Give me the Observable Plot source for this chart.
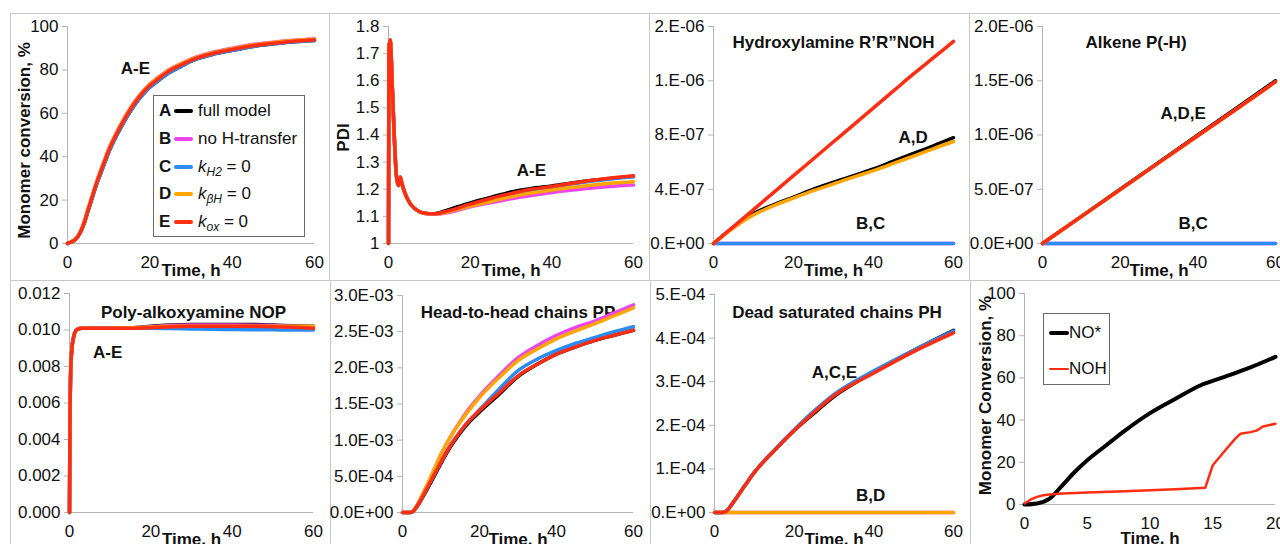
<!DOCTYPE html>
<html><head><meta charset="utf-8">
<script src="https://cdn.jsdelivr.net/npm/d3@7"></script>
<script src="https://cdn.jsdelivr.net/npm/@observablehq/plot@0.6"></script>
<style>
html,body{margin:0;padding:0;background:#fff;}
body{width:1280px;height:544px;overflow:hidden;position:relative;font-family:"Liberation Sans",Arial,Helvetica,sans-serif;color:#111;}
.box{position:absolute;border:1px solid #c8c8c8;box-sizing:border-box;}
.panel{position:absolute;}
.panel svg{overflow:visible;display:block;}
.legend{position:absolute;background:#fff;border:1px solid #6a6a6a;box-sizing:border-box;font-size:17px;}
.lrow{position:absolute;height:20px;line-height:20px;white-space:nowrap;}
.lkey{position:absolute;font-weight:bold;}
.lline{position:absolute;top:8px;height:4px;border-radius:2px;}
.ltxt{position:absolute;}
.ltxt sub{font-size:12px;font-style:italic;vertical-align:-4px;line-height:0;}
</style></head><body>
<script>
// ---------------- DATA ----------------
const keys = ["A", "B", "C", "D", "E"];
const keyColors = ["#000000", "#ee44ee", "#2a8cf4", "#ffa500", "#ff2d12"];
const legendNames = ["full model", "no H-transfer", "<i>k</i><sub>H2</sub> = 0", "<i>k</i><sub>βH</sub> = 0", "<i>k</i><sub>ox</sub> = 0"];
const timeLabel = "Time, h";

// Panel 1: monomer conversion (%)
const convTime = [0,1,2,3,4,5,6,7,8,9,10,12,14,16,18,20,22,25,28,30,35,40,45,50,55,60];
const convA = [0,0.8,2,4.6,9,15,21,27,32,37,42,50,57,63,68,72,75,79,82,84,87,89,90.8,92,93,93.6];
const convB = [0,0.9,2.2,5,9.8,16,22,28,33.5,38.5,43.5,51.5,58.5,64.5,69.5,73.5,76.5,80.5,83.3,85,88,90,91.7,92.8,93.7,94.3];
const convC = [0,0.8,2,4.6,9,15,21,27,32,37,42,50,57,63,68,72,75,79,82,84,87,89,90.8,92,93,93.6];
const convD = [0,0.9,2.2,5,9.7,15.9,21.9,27.9,33.3,38.3,43.3,51.3,58.3,64.3,69.3,73.3,76.3,80.3,83.1,84.8,87.8,89.8,91.5,92.6,93.5,94.1];
const convE = [0,0.8,2,4.7,9.3,15.5,21.5,27.5,32.8,37.8,42.8,50.8,57.8,63.8,68.8,72.8,75.8,79.8,82.6,84.4,87.4,89.4,91.1,92.3,93.2,93.8];
const convTicks = [0,20,40,60,80,100];

// Panel 2: PDI
const pdiTime = [0,0.1,0.4,1,1.4,1.9,2.4,2.9,3.3,3.8,5.3,6.5,7.8,9,10.6,12,15,20,25,30,35,40,45,50,55,60];
const pdiA = [1.0,1.72,1.75,1.55,1.40,1.256,1.214,1.244,1.22,1.195,1.147,1.128,1.116,1.112,1.110,1.112,1.126,1.150,1.170,1.190,1.203,1.212,1.223,1.233,1.241,1.248];
const pdiB = [1.0,1.72,1.75,1.55,1.40,1.256,1.214,1.244,1.22,1.195,1.147,1.128,1.116,1.110,1.108,1.108,1.115,1.135,1.150,1.165,1.177,1.188,1.197,1.205,1.211,1.216];
const pdiC = [1.0,1.72,1.75,1.55,1.40,1.256,1.214,1.244,1.22,1.195,1.147,1.128,1.116,1.112,1.110,1.111,1.120,1.143,1.163,1.182,1.197,1.207,1.219,1.230,1.239,1.246];
const pdiD = [1.0,1.72,1.75,1.55,1.40,1.256,1.214,1.244,1.22,1.195,1.147,1.128,1.116,1.111,1.110,1.110,1.118,1.138,1.155,1.172,1.186,1.197,1.207,1.216,1.223,1.228];
const pdiE = [1.0,1.72,1.75,1.55,1.40,1.256,1.214,1.244,1.22,1.195,1.147,1.128,1.116,1.112,1.110,1.111,1.122,1.145,1.166,1.184,1.200,1.210,1.222,1.233,1.242,1.250];
const pdiTicks = [1,1.1,1.2,1.3,1.4,1.5,1.6,1.7,1.8];
const pdiTickLabels = ["1","1.1","1.2","1.3","1.4","1.5","1.6","1.7","1.8"];

// Panel 3: hydroxylamine R'R"NOH
const nohTime = [0,5,10,15,20,25,30,35,40,45,50,55,60];
const nohA = [0,0.12e-6,0.22e-6,0.285e-6,0.342e-6,0.40e-6,0.452e-6,0.50e-6,0.55e-6,0.607e-6,0.664e-6,0.72e-6,0.78e-6];
const nohB = [0,0,0,0,0,0,0,0,0,0,0,0,0];
const nohC = [0,0,0,0,0,0,0,0,0,0,0,0,0];
const nohD = [0,0.115e-6,0.21e-6,0.278e-6,0.335e-6,0.39e-6,0.44e-6,0.49e-6,0.537e-6,0.59e-6,0.645e-6,0.70e-6,0.752e-6];
const nohE = [0,0.125e-6,0.25e-6,0.375e-6,0.50e-6,0.625e-6,0.75e-6,0.875e-6,1.0e-6,1.125e-6,1.25e-6,1.37e-6,1.49e-6];
const nohTicks = [0,4e-7,8e-7,1.2e-6,1.6e-6];
const nohTickLabels = ["0.E+00","4.E-07","8.E-07","1.E-06","2.E-06"];

// Panel 4: alkene P(-H)
const alkTime = [0,10,20,30,40,50,60];
const alkA = [0,0.25e-6,0.50e-6,0.75e-6,1.0e-6,1.25e-6,1.50e-6];
const alkB = [0,0,0,0,0,0,0];
const alkC = [0,0,0,0,0,0,0];
const alkD = [0,0.248e-6,0.497e-6,0.745e-6,0.993e-6,1.24e-6,1.49e-6];
const alkE = [0,0.248e-6,0.497e-6,0.745e-6,0.993e-6,1.24e-6,1.49e-6];
const alkTicks = [0,5e-7,1e-6,1.5e-6,2e-6];
const alkTickLabels = ["0.0E+00","5.0E-07","1.0E-06","1.5E-06","2.0E-06"];

// Panel 5: poly-alkoxyamine NOP
const nopTime = [0,0.1,0.3,0.6,1,1.4,2,3,5,10,15,20,25,30,35,40,45,50,55,60];
const nopA = [0,0.0045,0.0078,0.0090,0.0096,0.0099,0.01005,0.0101,0.0101,0.0101,0.01012,0.0102,0.01028,0.0103,0.0103,0.0103,0.0103,0.01027,0.01023,0.0102];
const nopB = [0,0.0045,0.0078,0.0090,0.0096,0.0099,0.01005,0.0101,0.0101,0.0101,0.01011,0.01018,0.01025,0.01027,0.01027,0.01027,0.01026,0.01024,0.0102,0.01018];
const nopC = [0,0.0045,0.0078,0.0090,0.0096,0.0099,0.01005,0.0101,0.0101,0.0101,0.0101,0.0101,0.01008,0.01006,0.01004,0.01003,0.01002,0.01001,0.01,0.01];
const nopD = [0,0.0045,0.0078,0.0090,0.0096,0.0099,0.01005,0.0101,0.0101,0.0101,0.01012,0.01016,0.0102,0.0102,0.0102,0.0102,0.0102,0.0102,0.0102,0.0102];
const nopE = [0,0.0045,0.0078,0.0090,0.0096,0.0099,0.01005,0.0101,0.0101,0.0101,0.0101,0.01013,0.01018,0.0102,0.0102,0.0102,0.0102,0.01018,0.01015,0.0101];
const nopTicks = [0,0.002,0.004,0.006,0.008,0.010,0.012];
const nopTickLabels = ["0.000","0.002","0.004","0.006","0.008","0.010","0.012"];

// Panel 6: head-to-head chains PP
const ppTime = [0,2,2.8,4,5,7.5,10,12.5,15,17.5,20,25,30,35,40,45,50,55,60];
const ppA = [0,0,0.02e-3,0.10e-3,0.19e-3,0.43e-3,0.68e-3,0.91e-3,1.10e-3,1.26e-3,1.39e-3,1.63e-3,1.88e-3,2.05e-3,2.19e-3,2.29e-3,2.38e-3,2.45e-3,2.52e-3];
const ppB = [0,0,0.02e-3,0.12e-3,0.22e-3,0.50e-3,0.80e-3,1.05e-3,1.26e-3,1.45e-3,1.61e-3,1.89e-3,2.14e-3,2.31e-3,2.45e-3,2.56e-3,2.65e-3,2.76e-3,2.87e-3];
const ppC = [0,0,0.02e-3,0.11e-3,0.20e-3,0.45e-3,0.70e-3,0.93e-3,1.12e-3,1.28e-3,1.42e-3,1.70e-3,1.96e-3,2.12e-3,2.24e-3,2.34e-3,2.42e-3,2.50e-3,2.57e-3];
const ppD = [0,0,0.02e-3,0.12e-3,0.23e-3,0.51e-3,0.81e-3,1.05e-3,1.25e-3,1.43e-3,1.59e-3,1.86e-3,2.10e-3,2.26e-3,2.40e-3,2.51e-3,2.61e-3,2.72e-3,2.83e-3];
const ppE = [0,0,0.02e-3,0.11e-3,0.20e-3,0.45e-3,0.70e-3,0.93e-3,1.12e-3,1.28e-3,1.41e-3,1.65e-3,1.89e-3,2.05e-3,2.19e-3,2.29e-3,2.38e-3,2.45e-3,2.52e-3];
const ppTicks = [0,5e-4,1e-3,1.5e-3,2e-3,2.5e-3,3e-3];
const ppTickLabels = ["0.0E+00","5.0E-04","1.0E-03","1.5E-03","2.0E-03","2.5E-03","3.0E-03"];

// Panel 7: dead saturated chains PH
const phTime = [0,2,2.8,4,5,7.5,10,15,20,25,30,40,50,60];
const phA = [0,0,0.02e-4,0.14e-4,0.27e-4,0.60e-4,0.92e-4,1.42e-4,1.88e-4,2.28e-4,2.66e-4,3.22e-4,3.72e-4,4.18e-4];
const phB = [0,0,0,0,0,0,0,0,0,0,0,0,0,0];
const phC = [0,0,0.02e-4,0.14e-4,0.27e-4,0.60e-4,0.92e-4,1.43e-4,1.90e-4,2.33e-4,2.71e-4,3.25e-4,3.72e-4,4.16e-4];
const phD = [0,0,0,0,0,0,0,0,0,0,0,0,0,0];
const phE = [0,0,0.02e-4,0.14e-4,0.27e-4,0.60e-4,0.92e-4,1.42e-4,1.88e-4,2.30e-4,2.68e-4,3.20e-4,3.69e-4,4.12e-4];
const phTicks = [0,1e-4,2e-4,3e-4,4e-4,5e-4];
const phTickLabels = ["0.E+00","1.E-04","2.E-04","3.E-04","4.E-04","5.E-04"];

// Panel 8: NO* vs NOH conversion
const expKeys = ["NO*", "NOH"];
const expColors = ["#000000", "#ff2d12"];
const noStarTime = [0,1,2,3,4,5,6,7,8,10,12,14,16,18,20];
const noStarConv = [0,0.5,2.8,9,15.4,21,25.7,30.4,35,43.3,50,56.4,60.6,65,70];
const nohExpTime = [0,0.5,1,1.5,2,3,5,8,10,12,14.4,15,16,16.8,17.2,18,18.5,19,20];
const nohExpConv = [0.5,2.4,3.6,4.4,4.7,5.2,5.7,6.3,6.8,7.2,7.9,18.6,25.7,31.2,33.5,34.3,35,37,38.3];
const expTimeTicks = [0,5,10,15,20];

// Annotations (data coordinates)
const p1Notes = [{t: 16.5, v: 80.6, label: "A-E"}];
const p2Notes = [{t: 35, v: 1.269, label: "A-E"}];
const p3Notes = [{t: 49.9, v: 0.78e-6, label: "A,D"}, {t: 39.3, v: 0.147e-6, label: "B,C"}];
const p4Notes = [{t: 36.2, v: 1.2e-6, label: "A,D,E"}, {t: 38.8, v: 0.183e-6, label: "B,C"}];
const p5Notes = [{t: 9.4, v: 0.00879, label: "A-E"}];
const p7Notes = [{t: 30.1, v: 3.215e-4, label: "A,C,E"}, {t: 39.2, v: 0.38e-4, label: "B,D"}];

// ---------------- HELPERS ----------------
const FONT = "'Liberation Sans', Arial, Helvetica, sans-serif";
const AXIS_GRAY = "#b4b4b4";

function rows(times, arrays) {
  return keys.map((k, j) => times.map((t, i) => ({t, v: arrays[j][i], s: k})));
}

function addBox(l, t, w, h) {
  const d = document.createElement("div");
  d.className = "box";
  Object.assign(d.style, {left: l + "px", top: t + "px", width: w + "px", height: h + "px"});
  document.body.appendChild(d);
}

function panel(cfg) {
  const [sl, st, sw, sh] = cfg.svg;
  const [L, R, T, B] = cfg.plot;
  const yLabelMap = new Map(cfg.yTicks.map((d, i) => [d, cfg.yTickLabels ? cfg.yTickLabels[i] : String(d)]));
  const marks = [
    Plot.ruleX([cfg.xDomain[0]], {stroke: AXIS_GRAY, strokeWidth: 1}),
    Plot.ruleY([cfg.yDomain[0]], {stroke: AXIS_GRAY, strokeWidth: 1}),
    Plot.axisY(cfg.yTicks, {tickSize: 5, tickPadding: 4, stroke: AXIS_GRAY, fill: "#111", label: null, tickFormat: d => yLabelMap.get(d), fontSize: 17}),
    Plot.axisX(cfg.xTicks, {tickSize: 0, tickPadding: 12, fill: "#111", label: null, tickFormat: d => String(d), fontSize: 17}),
    Plot.text([timeLabel], {frameAnchor: "bottom", lineAnchor: "middle", textAnchor: "middle", dy: cfg.xLabelDy, fontWeight: "bold", fontSize: 17, fill: "#111"})
  ];
  if (cfg.yLabel) marks.push(Plot.text([cfg.yLabel], {frameAnchor: "left", textAnchor: "middle", lineAnchor: "middle", rotate: -90, dx: cfg.yLabelDx, dy: cfg.yLabelDy, fontWeight: "bold", fontSize: 17, fill: "#111"}));
  if (cfg.title) marks.push(Plot.text([cfg.title], {frameAnchor: "top", textAnchor: "middle", lineAnchor: "middle", dx: cfg.titleDx || 0, dy: cfg.titleDy, fontWeight: "bold", fontSize: 17, fill: "#111"}));
  marks.push(...cfg.lines);
  if (cfg.notes) marks.push(Plot.text(cfg.notes, {x: "t", y: "v", text: "label", fontWeight: "bold", fontSize: 17, fill: "#111"}));
  const svg = Plot.plot({
    width: sw, height: sh,
    marginLeft: L - sl, marginRight: sl + sw - R, marginTop: T - st, marginBottom: st + sh - B,
    style: {fontFamily: FONT, fontSize: "17px", background: "transparent", color: "#111", overflow: "visible"},
    x: {domain: cfg.xDomain},
    y: {domain: cfg.yDomain},
    color: cfg.color,
    marks
  });
  const wrap = document.createElement("div");
  wrap.className = "panel";
  Object.assign(wrap.style, {left: sl + "px", top: st + "px", width: sw + "px", height: sh + "px"});
  wrap.appendChild(svg);
  document.body.appendChild(wrap);
}

function modelLines(times, arrays, curve = "monotone-x") {
  return rows(times, arrays).map(r => Plot.line(r, {x: "t", y: "v", stroke: "s", strokeWidth: 3.5, curve, strokeLinejoin: "round"}));
}
const modelColor = {domain: keys, range: keyColors};

// ---------------- FRAMES ----------------
addBox(10, 13, 320, 268);
addBox(329, 13, 321, 268);
addBox(649, 13, 321, 268);
addBox(969, 13, 330, 268);
addBox(10, 280, 321, 280);
addBox(330, 280, 321, 280);
addBox(650, 280, 321, 280);
addBox(970, 280, 330, 280);

// ---------------- PANELS ----------------
panel({svg: [10, 13, 319, 267], plot: [67, 314, 26, 243], xDomain: [0, 60], yDomain: [0, 100],
  xTicks: [0, 20, 40, 60], yTicks: convTicks, yLabel: "Monomer conversion, %", yLabelDx: -42.5, yLabelDy: 5.5, xLabelDy: 27,
  color: modelColor, lines: modelLines(convTime, [convA, convB, convC, convD, convE]), notes: p1Notes});

panel({svg: [329, 13, 320, 267], plot: [388, 633, 26, 243], xDomain: [0, 60], yDomain: [1, 1.8],
  xTicks: [0, 20, 40, 60], yTicks: pdiTicks, yTickLabels: pdiTickLabels, yLabel: "PDI", yLabelDx: -45, yLabelDy: 2.5, xLabelDy: 27,
  color: modelColor, lines: modelLines(pdiTime, [pdiA, pdiB, pdiC, pdiD, pdiE]), notes: p2Notes});

panel({svg: [649, 13, 320, 267], plot: [713, 953, 26, 243], xDomain: [0, 60], yDomain: [0, 1.6e-6],
  xTicks: [0, 20, 40, 60], yTicks: nohTicks, yTickLabels: nohTickLabels, xLabelDy: 27,
  title: "Hydroxylamine R’R”NOH", titleDy: 16,
  color: modelColor, lines: modelLines(nohTime, [nohA, nohB, nohC, nohD, nohE]), notes: p3Notes});

panel({svg: [969, 13, 311, 267], plot: [1042, 1275, 26, 243], xDomain: [0, 60], yDomain: [0, 2e-6],
  xTicks: [0, 20, 40, 60], yTicks: alkTicks, yTickLabels: alkTickLabels, xLabelDy: 27,
  title: "Alkene P(-H)", titleDx: -23, titleDy: 16,
  color: modelColor, lines: modelLines(alkTime, [alkA, alkB, alkC, alkD, alkE], "linear"), notes: p4Notes});

panel({svg: [10, 281, 320, 263], plot: [69, 313, 293, 512], xDomain: [0, 60], yDomain: [0, 0.012],
  xTicks: [0, 20, 40, 60], yTicks: nopTicks, yTickLabels: nopTickLabels, xLabelDy: 27,
  title: "Poly-alkoxyamine NOP", titleDx: 2, titleDy: 19,
  color: modelColor, lines: modelLines(nopTime, [nopA, nopB, nopC, nopD, nopE]), notes: p5Notes});

panel({svg: [330, 281, 320, 263], plot: [402, 633, 295, 512], xDomain: [0, 60], yDomain: [0, 3e-3],
  xTicks: [0, 20, 40, 60], yTicks: ppTicks, yTickLabels: ppTickLabels, xLabelDy: 27,
  title: "Head-to-head chains PP", titleDy: 17,
  color: modelColor, lines: modelLines(ppTime, [ppA, ppB, ppC, ppD, ppE])});

panel({svg: [650, 281, 320, 263], plot: [714, 953, 294, 512], xDomain: [0, 60], yDomain: [0, 5e-4],
  xTicks: [0, 20, 40, 60], yTicks: phTicks, yTickLabels: phTickLabels, xLabelDy: 27,
  title: "Dead saturated chains PH", titleDx: 3, titleDy: 18,
  color: modelColor, lines: modelLines(phTime, [phA, phB, phC, phD, phE]), notes: p7Notes});

panel({svg: [970, 281, 310, 263], plot: [1024, 1275, 293, 504], xDomain: [0, 20], yDomain: [0, 100],
  xTicks: expTimeTicks, yTicks: convTicks, yLabel: "Monomer Conversion, %", yLabelDx: -39, yLabelDy: -3.5, xLabelDy: 34,
  color: {domain: expKeys, range: expColors},
  lines: [
    Plot.line(noStarTime.map((t, i) => ({t, v: noStarConv[i], s: expKeys[0]})), {x: "t", y: "v", stroke: "s", strokeWidth: 4, curve: "monotone-x"}),
    Plot.line(nohExpTime.map((t, i) => ({t, v: nohExpConv[i], s: expKeys[1]})), {x: "t", y: "v", stroke: "s", strokeWidth: 2.5})
  ]});

// ---------------- LEGENDS ----------------
(function () {
  const lg = document.createElement("div");
  lg.className = "legend";
  Object.assign(lg.style, {left: "153px", top: "95px", width: "152px", height: "142px"});
  keys.forEach((k, i) => {
    const r = document.createElement("div");
    r.className = "lrow";
    r.style.top = (5 + i * 27.75) + "px";
    r.style.left = "0px";
    r.innerHTML = `<span class="lkey" style="left:5px">${k}</span><span class="lline" style="left:20px;width:19px;background:${keyColors[i]}"></span><span class="ltxt" style="left:44px">${legendNames[i]}</span>`;
    lg.appendChild(r);
  });
  document.body.appendChild(lg);

  const lg2 = document.createElement("div");
  lg2.className = "legend";
  Object.assign(lg2.style, {left: "1043px", top: "313px", width: "67px", height: "72px"});
  const widths = [4, 2.5];
  [20, 56].forEach((cy, i) => {
    const r = document.createElement("div");
    r.className = "lrow";
    r.style.top = (cy - 11) + "px";
    r.innerHTML = `<span class="lline" style="left:5px;width:20px;top:${10 - widths[i] / 2}px;height:${widths[i]}px;background:${expColors[i]}"></span><span class="ltxt" style="left:25px">${expKeys[i]}</span>`;
    lg2.appendChild(r);
  });
  document.body.appendChild(lg2);
})();
</script>
</body></html>
